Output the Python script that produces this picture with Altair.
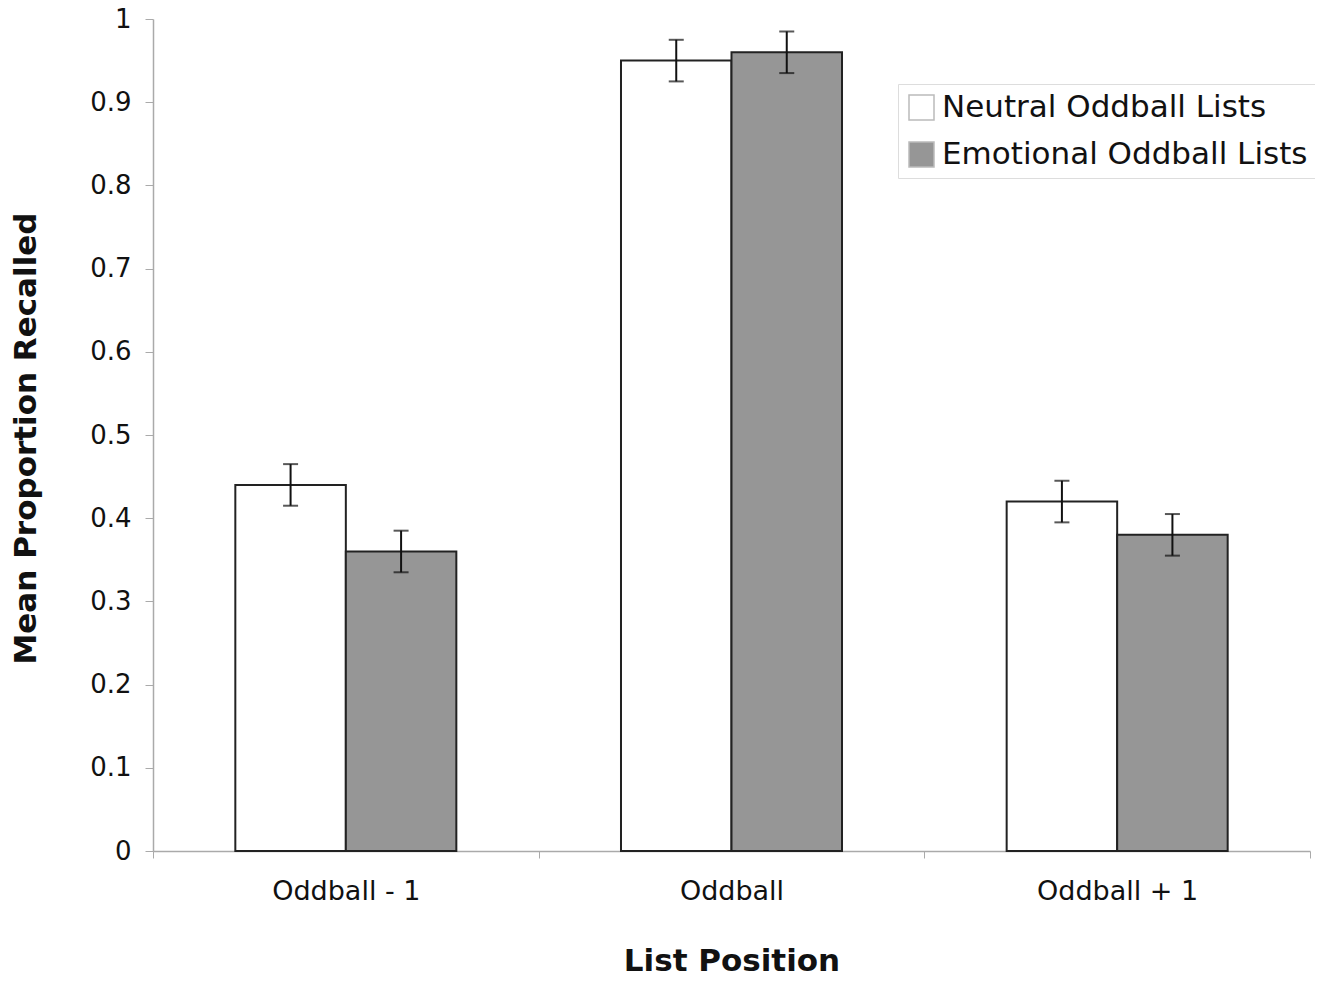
import altair as alt
import pandas as pd

positions = ["Oddball - 1", "Oddball", "Oddball + 1"]
conditions = ["Neutral Oddball Lists", "Emotional Oddball Lists"]
neutral_vals = [0.44, 0.95, 0.42]
emotional_vals = [0.36, 0.96, 0.38]
neutral_err = [0.025, 0.025, 0.025]
emotional_err = [0.025, 0.025, 0.025]
y_ticks = [0, 0.1, 0.2, 0.3, 0.4, 0.5, 0.6, 0.7, 0.8, 0.9, 1]

rows = []
for i, p in enumerate(positions):
    rows.append({"pos": p, "cond": conditions[0], "val": neutral_vals[i], "err": neutral_err[i]})
    rows.append({"pos": p, "cond": conditions[1], "val": emotional_vals[i], "err": emotional_err[i]})
df = pd.DataFrame(rows)
df["lo"] = df["val"] - df["err"]
df["hi"] = df["val"] + df["err"]

FONT = "DejaVu Sans"

x_enc = alt.X("pos:N", sort=positions,
              scale=alt.Scale(paddingInner=0, paddingOuter=0),
              axis=alt.Axis(title="List Position", labelAngle=0, labelFontSize=27,
                            labelFont=FONT, labelColor="#111", labelPadding=20,
                            tickBand="extent", tickSize=7, tickColor="#aaa",
                            domainColor="#aaa", domainWidth=1.5, tickWidth=1,
                            titleFont=FONT, titleFontSize=31, titleFontWeight="bold",
                            titleColor="#111", titleY=110, titleBaseline="middle"))
xoff = alt.XOffset("cond:N", sort=conditions, scale=alt.Scale(paddingOuter=0.745, paddingInner=0))

bars = alt.Chart(df).mark_bar(stroke="#222", strokeWidth=2).encode(
    x=x_enc,
    xOffset=xoff,
    y=alt.Y("val:Q", scale=alt.Scale(domain=[0, 1], nice=False),
            axis=alt.Axis(title="Mean Proportion Recalled", values=y_ticks, grid=False,
                          format="~g",
                          labelFontSize=26, labelFont=FONT, labelColor="#111", labelPadding=14,
                          tickSize=8, tickColor="#aaa", domainColor="#aaa", domainWidth=1.5,
                          titleFont=FONT, titleFontSize=31, titleFontWeight="bold",
                          titleColor="#111", titleX=-127, titleY=419, titleAngle=-90,
                          titleAlign="center", titleBaseline="middle")),
    fill=alt.Fill("cond:N", sort=conditions,
                  scale=alt.Scale(domain=conditions, range=["#ffffff", "#969696"]),
                  legend=alt.Legend(title=None, orient="none", legendX=745, legendY=65,
                                    labelFont=FONT, labelFontSize=31, labelColor="#111",
                                    symbolType="square", symbolSize=625,
                                    symbolStrokeColor="#bbbbbb", symbolStrokeWidth=1.5,
                                    rowPadding=15, padding=8, strokeColor="#dddddd",
                                    labelOffset=5, labelLimit=600)),
)

rules = alt.Chart(df).mark_rule(color="#111", strokeWidth=2).encode(
    x=alt.X("pos:N", sort=positions),
    xOffset=xoff,
    y="lo:Q",
    y2="hi:Q",
)
caps_lo = alt.Chart(df).mark_tick(color="#111", thickness=2, size=15, orient="horizontal").encode(
    x=alt.X("pos:N", sort=positions),
    xOffset=xoff,
    y="lo:Q",
)
caps_hi = alt.Chart(df).mark_tick(color="#111", thickness=2, size=15, orient="horizontal").encode(
    x=alt.X("pos:N", sort=positions),
    xOffset=xoff,
    y="hi:Q",
)

chart = alt.layer(bars, rules, caps_lo, caps_hi).properties(
    width=1157, height=832,
    autosize=alt.AutoSizeParams(type="none"),
    padding={"left": 145, "top": 11, "right": 5, "bottom": 122},
).configure(background="white").configure_view(stroke=None)

chart.save("out.html", embed_options={"renderer": "svg", "actions": False})
